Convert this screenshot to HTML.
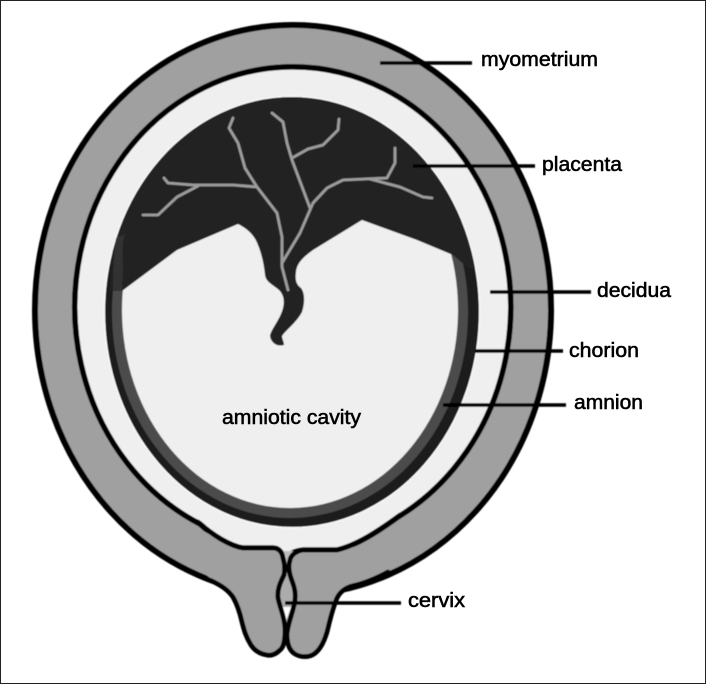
<!DOCTYPE html>
<html>
<head>
<meta charset="utf-8">
<style>
html,body{margin:0;padding:0;background:#fff;width:706px;height:684px;overflow:hidden}
svg{display:block}
text{font-family:"Liberation Sans",sans-serif;font-size:20px;fill:#000;stroke:#000;stroke-width:.55px}
</style>
</head>
<body>
<svg width="706" height="684" viewBox="0 0 706 684" xmlns="http://www.w3.org/2000/svg">
<defs>
<clipPath id="sac"><ellipse cx="292" cy="312" rx="187" ry="215"/></clipPath>
<filter id="soft" filterUnits="userSpaceOnUse" x="0" y="0" width="706" height="684"><feGaussianBlur stdDeviation="0.45"/></filter>
</defs>
<rect width="706" height="684" fill="#fff"/>
<rect x=".5" y=".5" width="705" height="683" fill="none" stroke="#222" stroke-width="1"/>
<g filter="url(#soft)">
<!-- uterus wall -->
<ellipse cx="293" cy="310" rx="258" ry="285" fill="#a0a0a0" stroke="#000" stroke-width="6"/>
<!-- decidua -->
<path d="M200 524A218 240 0 1 1 398 517C380 530 358 545 337 550L303 550C295 551 290 553 289 558L284 558C281 551 278 548 273 548L243 548C230 546 212 535 200 524Z" fill="#efefef" stroke="#000" stroke-width="5.6"/>
<path d="M281 551H296L289 566H286Z" fill="#bdbdbd"/>
<!-- cervix gap -->
<path d="M284 566L276 596L285 630H288L296 597L289 566Z" fill="#acacac"/>
<path d="M283 607H291L286 621Z" fill="#fff"/>
<!-- cervix lobes fill -->
<path d="M205 532L243 550L273 550C279 550 282 553 283 558C285 565 285 570 284 575C280 583 277 590 278 598C280 608 285 618 285 630C285 640 284 647 280 650C276 654 272 656 267 655C260 654 255 651 251 645C246 637 244 630 242 622C240 613 237 604 233 597C228 590 222 586 215 582L205 574Z" fill="#a0a0a0"/>
<path d="M392 526L370 543L337 551L303 551C296 552 291 555 290 560C288 566 289 572 291 578C294 586 296 592 295 600C294 610 288 622 287 634C287 644 290 651 295 654C300 657 308 658 314 654C320 650 324 642 327 632C330 620 332 610 337 598C340 592 345 588 352 587L380 572Z" fill="#a0a0a0"/>
<!-- cervix strokes -->
<g fill="none" stroke="#000" stroke-width="4.8" stroke-linecap="round">
<path d="M198 522C212 535 230 546 243 548L273 548C279 548 282 552 283 558C285 565 285 570 284 575C280 583 277 590 278 598C280 608 285 618 285 630C285 640 284 647 280 650C276 654 272 656 267 655C260 654 255 651 251 645C246 637 244 630 242 622C240 613 237 604 233 597C228 590 222 586 212 581C207 579 203 578 198 575"/>
<path d="M400 515C380 530 358 545 337 550L303 550C296 551 291 555 290 560C288 566 289 572 291 578C294 586 296 592 295 600C294 610 288 622 287 634C287 644 290 651 295 654C300 657 308 658 314 654C320 650 324 642 327 632C330 620 332 610 337 598C340 592 345 588 352 586C362 584 375 579 388 572"/>
</g>
<!-- sac -->
<ellipse cx="292" cy="312" rx="187.5" ry="215.5" fill="#1a1a1a" stroke="#fff" stroke-width="1.2"/>
<ellipse cx="290" cy="312" rx="178" ry="206" fill="#4c4c4c"/>
<ellipse cx="290" cy="310" rx="168" ry="198" fill="#efefef"/>
<path clip-path="url(#sac)" d="M90 90H490V268H468L453 255L417 240L362 220L313 250C305 256 297 262 296 272C295 280 296 284 301 288C305 293 305 303 302 312C297 322 286 330 282 336C282 339 284 342 284 345C277 347 271 343 270 336C271 329 280 320 283 308C285 300 283 294 279 290C272 284 266 282 265 275C264 265 262 255 258 245C254 234 246 228 238 224L177 250L122 291H110L113 240L90 250Z" fill="#242424"/>
<path d="M116 238C114 255 113 272 113 291L122 291L123 270C123 260 121 245 125 234Z" fill="#333"/>
<!-- veins -->
<g fill="none" stroke="#9c9c9c" stroke-width="2.8" stroke-linecap="round" stroke-linejoin="round">
<path d="M233 118L229 128L238 143L245 168L257 187L277 213L282 237L282 267L288 290"/>
<path d="M272 113L283 122L287 143L292 160L310 208"/>
<path d="M292 158L308 149L323 145L338 130L339 119"/>
<path d="M282 263L300 233L313 203L327 188L343 180L387 178L395 163L395 148"/>
<path d="M370 179L400 187L423 197L432 198"/>
<path d="M257 187L233 185L193 185L168 183L164 178"/>
<path d="M198 186L177 197L158 215L143 215"/>
</g>
<!-- leader lines -->
<g stroke="#000" stroke-width="3.6" fill="none">
<path d="M380 63H472"/>
<path d="M413 166H535"/>
<path d="M490 292H591"/>
<path d="M475 351H563"/>
<path d="M443 405H566"/>
<path d="M285 603H401"/>
</g>
</g>
<!-- labels -->
<text x="481" y="66" textLength="117" lengthAdjust="spacingAndGlyphs">myometrium</text>
<text x="542" y="171" textLength="80" lengthAdjust="spacingAndGlyphs">placenta</text>
<text x="597" y="297" textLength="74" lengthAdjust="spacingAndGlyphs">decidua</text>
<text x="569" y="357" textLength="70" lengthAdjust="spacingAndGlyphs">chorion</text>
<text x="574" y="409" textLength="69" lengthAdjust="spacingAndGlyphs">amnion</text>
<text x="222" y="424" textLength="139" lengthAdjust="spacingAndGlyphs">amniotic cavity</text>
<text x="408" y="607" textLength="57" lengthAdjust="spacingAndGlyphs">cervix</text>
</svg>
</body>
</html>
